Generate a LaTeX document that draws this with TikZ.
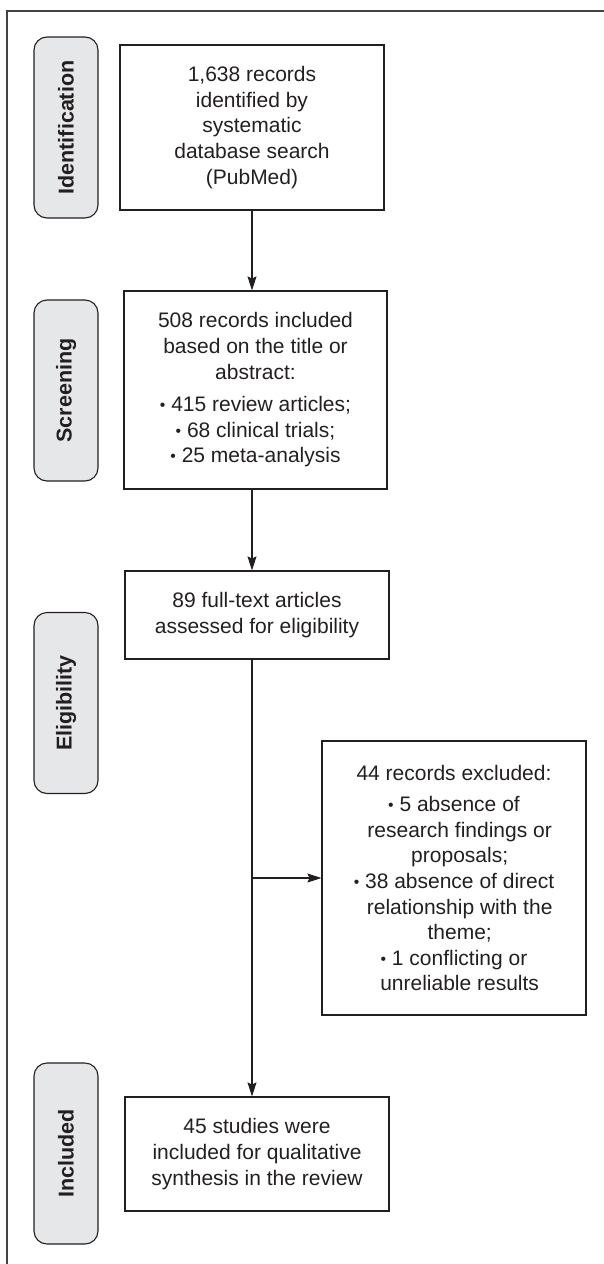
\documentclass[tikz,border=0pt]{standalone}
\usepackage{fontspec}
\setmainfont{Liberation Sans}
\usetikzlibrary{arrows.meta,calc}
\definecolor{ink}{HTML}{231F20}
\definecolor{pillfill}{HTML}{E6E7E8}
\newcommand{\bul}{\raisebox{0.1ex}{\scalebox{0.75}{•}}}
\begin{document}
\begin{tikzpicture}[x=1pt,y=1pt,
  every node/.style={text=ink},
  flowbox/.style={draw=ink, line width=1.1pt, rectangle, align=center, inner sep=0pt,
    font=\fontsize{21}{25.6}\selectfont},
  pill/.style={draw=ink, line width=1.1pt, fill=pillfill, rounded corners=13pt,
    minimum width=64pt, minimum height=181pt, inner sep=0pt},
  pilltext/.style={rotate=90, font=\fontsize{21.5}{24}\selectfont\bfseries},
  arr/.style={draw=ink, line width=1.1pt, -{Stealth[length=14pt,width=9pt,inset=2pt]}},
  frame/.style={draw=ink!85, line width=1.1pt}]
\useasboundingbox (0,0) rectangle (604,-1264);
\draw[frame] (604,-11) -- (7,-11) -- (7,-1270);

% phase pills
\node[pill] (pid) at (66,-127.5) {};
\node[pilltext] (tid) at (pid.center) {Identification};
\node[pill] (psc) at (66,-390.5) {};
\node[pilltext] (tsc) at (psc.center) {Screening};
\node[pill] (pel) at (66,-703) {};
\node[pilltext] (tel) at (pel.center) {Eligibility};
\node[pill] (pin) at (66,-1153.5) {};
\node[pilltext] (tin) at (pin.center) {Included};

% boxes
\node[flowbox, minimum width=264pt, minimum height=165pt] (b1) at (252,-127.5)
  {1,638 records\\identified by\\systematic\\database search\\(PubMed)};
\node[flowbox, minimum width=263pt, minimum height=198pt] (b2) at (255.5,-390)
  {508 records included\\based on the title or\\abstract:\\[7pt]
   \bul\ 415 review articles;\\\bul\ 68 clinical trials;\\\bul\ 25 meta-analysis};
\node[flowbox, minimum width=264pt, minimum height=88pt] (b3) at (257,-615)
  {89 full-text articles\\assessed for eligibility};
\node[flowbox, minimum width=264pt, minimum height=274pt] (b4) at (454,-878)
  {44 records excluded:\\[6pt]
   \bul\ 5 absence of\\\hphantom{\bul\ }research findings or\\\hphantom{\bul\ }proposals;\\
   \bul\ 38 absence of direct\\\hphantom{\bul\ }relationship with the\\\hphantom{\bul\ }theme;\\
   \bul\ 1 conflicting or\\\hphantom{\bul\ }unreliable results};
\node[flowbox, minimum width=264pt, minimum height=114pt] (b5) at (257,-1154)
  {45 studies were\\included for qualitative\\synthesis in the review};

% connectors
\draw[arr] (b1.south) -- (b1.south |- b2.north);
\draw[arr] (b2.south -| b1.south) -- (b1.south |- b3.north);
\draw[arr] (b3.south -| b1.south) -- (b1.south |- b5.north);
\draw[arr] (b1.south |- b4.west) -- (b4.west);
\end{tikzpicture}
\end{document}
